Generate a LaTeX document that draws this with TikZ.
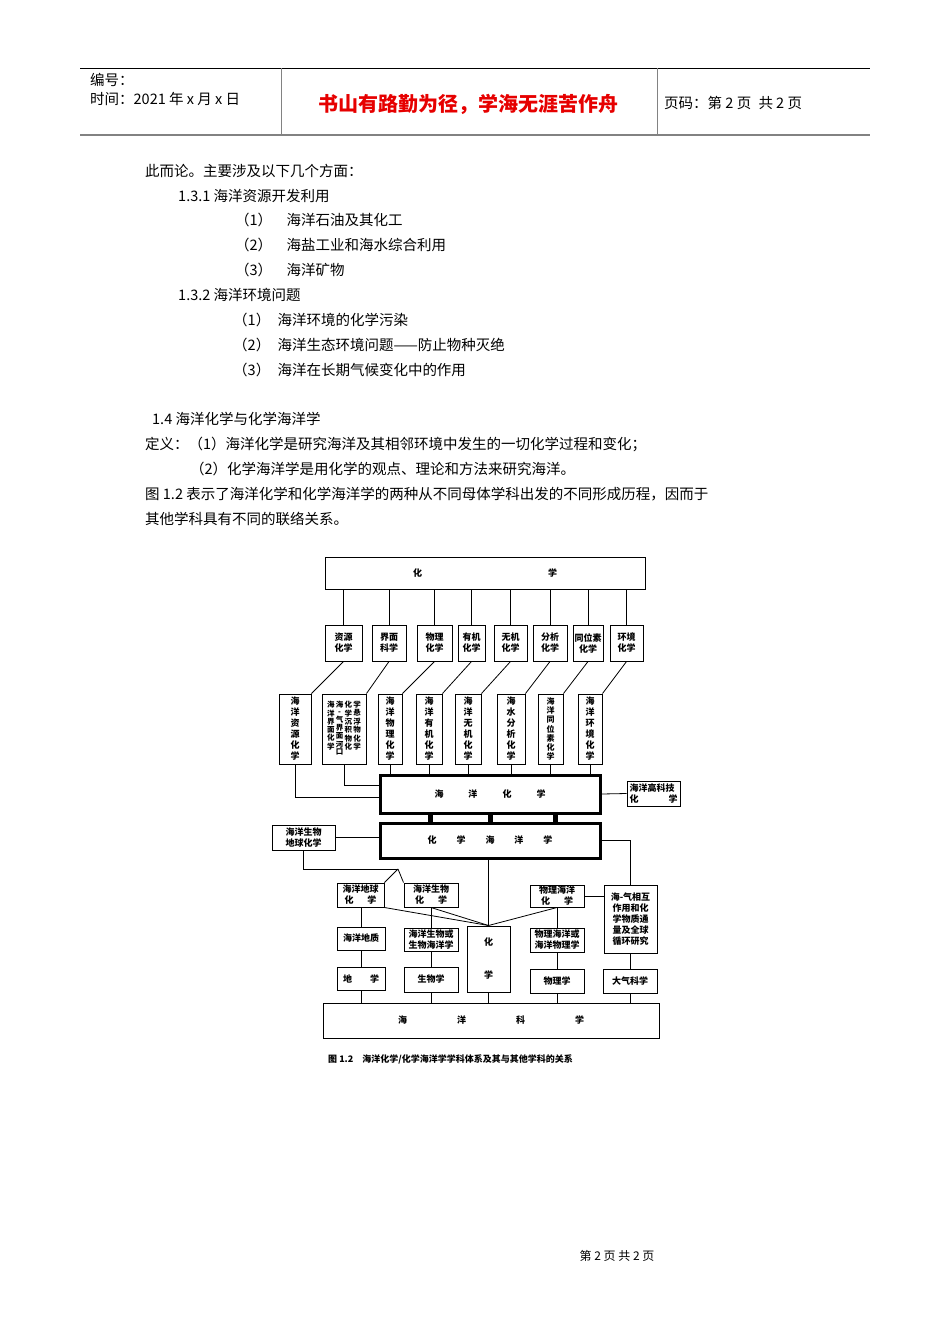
\documentclass[tikz,border=0pt]{standalone}
\usepackage{fontspec}
\setmainfont{Noto Sans CJK SC}
\usetikzlibrary{calc, positioning}
\definecolor{mottored}{RGB}{230,0,0}
\definecolor{rulegray}{RGB}{130,130,130}
\newcommand{\dfont}{\fontsize{9}{11}\selectfont\bfseries}
\newcommand{\bfont}{\fontsize{14.5}{17}\selectfont}
\newcommand{\vcol}[1]{\begin{tabular}[t]{@{}c@{}}#1\end{tabular}}
\tikzset{
  box/.style={draw, line width=1pt, inner sep=1pt, align=center, font=\dfont},
  bigbox/.style={box, line width=3pt},
  txt/.style={anchor=west, inner sep=0pt, font=\bfont},
  link/.style={line width=0.8pt}
}
\begin{document}
\begin{tikzpicture}[x=1pt, y=-1pt]
        \useasboundingbox (0,0) rectangle (950,1344);
        % Header
        \draw[line width=0.8pt] (80,68) -- (870,68);
        \draw[rulegray, line width=2pt] (80,135) -- (870,135);
        \draw[rulegray] (281,68) -- (281,135) (657,68) -- (657,135);
        \node[txt] (no) at (90,80) {编号：};
        \node[txt] (date) at (90,99) {时间：2021 年 x 月 x 日};
        \node[font=\fontsize{20}{24}\selectfont\bfseries, text=mottored] (motto) at (468,104) {书山有路勤为径，学海无涯苦作舟};
        \node[txt] (pg) at (664,103) {页码：第 2 页\enspace 共 2 页};

        % Body text
        \node[txt] (l1) at (145,171) {此而论。主要涉及以下几个方面：};
        \node[txt] (l2) at (178,196) {1.3.1 海洋资源开发利用};
        \node[txt] (l3) at (235,220) {（1）\quad 海洋石油及其化工};
        \node[txt] (l4) at (235,245) {（2）\quad 海盐工业和海水综合利用};
        \node[txt] (l5) at (235,270) {（3）\quad 海洋矿物};
        \node[txt] (l6) at (178,295) {1.3.2 海洋环境问题};
        \node[txt] (l7) at (233,320) {（1）\enspace 海洋环境的化学污染};
        \node[txt] (l8) at (233,345) {（2）\enspace 海洋生态环境问题——防止物种灭绝};
        \node[txt] (l9) at (233,370) {（3）\enspace 海洋在长期气候变化中的作用};
        \node[txt] (l10) at (152,419) {1.4 海洋化学与化学海洋学};
        \node[txt] (l11) at (145,444) {定义：（1）海洋化学是研究海洋及其相邻环境中发生的一切化学过程和变化；};
        \node[txt] (l12) at (190,469) {（2）化学海洋学是用化学的观点、理论和方法来研究海洋。};
        \node[txt] (l13) at (145,494) {图 1.2 表示了海洋化学和化学海洋学的两种从不同母体学科出发的不同形成历程，因而于};
        \node[txt] (l14) at (145,519) {其他学科具有不同的联络关系。};

        % Top box
        \node[box, minimum width=320pt, minimum height=32pt] (hx) at (485,573) {\hspace{0pt}化\hspace{126pt}学};

        % Second row
        \node[box, minimum width=37pt, minimum height=36pt] (zy) at (343.5,643) {资源\\化学};
        \node[box, minimum width=34pt, minimum height=36pt] (jm) at (389,643) {界面\\科学};
        \node[box, minimum width=35pt, minimum height=36pt] (wl) at (434.5,643) {物理\\化学};
        \node[box, minimum width=27pt, minimum height=36pt] (yj) at (471.5,643) {有机\\化学};
        \node[box, minimum width=33pt, minimum height=36pt] (wj) at (510.5,643) {无机\\化学};
        \node[box, minimum width=34pt, minimum height=36pt] (fx) at (550,643) {分析\\化学};
        \node[box, minimum width=30pt, minimum height=36pt] (tw) at (588,643) {同位素\\化学};
        \node[box, minimum width=33pt, minimum height=36pt] (hj) at (626.5,643) {环境\\化学};
        \foreach \n in {zy,jm,wl,yj,wj,fx,tw,hj}
          \draw[link] (\n.north) -- (\n.north |- hx.south);

        % Third row
        \node[box, minimum width=32pt, minimum height=70pt] (hzy) at (295,729) {海\\洋\\资\\源\\化\\学};
        \node[box, minimum width=44pt, minimum height=70pt, inner sep=0.5pt, font=\fontsize{7.5}{8.6}\selectfont\bfseries] (hjm) at (344,729)
          {\renewcommand\arraystretch{0.78}\vcol{海\\洋\\界\\面\\化\\学}\,\vcol{海\\-\\气\\界\\面\\河\\口}\,\vcol{化\\学\\沉\\积\\物\\化}\,\vcol{学\\悬\\浮\\物\\化\\学}};
        \node[box, minimum width=24pt, minimum height=70pt] (hwl) at (390,729) {海\\洋\\物\\理\\化\\学};
        \node[box, minimum width=26pt, minimum height=70pt] (hyj) at (429,729) {海\\洋\\有\\机\\化\\学};
        \node[box, minimum width=26pt, minimum height=70pt] (hwj) at (468,729) {海\\洋\\无\\机\\化\\学};
        \node[box, minimum width=28pt, minimum height=70pt] (hfx) at (511,729) {海\\水\\分\\析\\化\\学};
        \node[box, minimum width=25pt, minimum height=70pt, font=\fontsize{8}{9.2}\selectfont\bfseries] (htw) at (550.5,729) {海\\洋\\同\\位\\素\\化\\学};
        \node[box, minimum width=24pt, minimum height=70pt] (hhj) at (590,729) {海\\洋\\环\\境\\化\\学};
        \draw[link] (zy.south) -- (hzy.north east);
        \draw[link] (jm.south) -- (hjm.north east);
        \draw[link] (wl.south) -- (hwl.north east);
        \draw[link] (yj.south) -- (hyj.north east);
        \draw[link] (wj.south) -- (hwj.north east);
        \draw[link] (fx.south) -- (hfx.north east);
        \draw[link] (tw.south) -- (htw.north east);
        \draw[link] (hj.south) -- (hhj.north east);

        % Marine chemistry / chemical oceanography
        \node[bigbox, minimum width=220pt, minimum height=38pt] (hyhx) at (490,794) {海\hspace{25pt}洋\hspace{25pt}化\hspace{25pt}学};
        \node[bigbox, minimum width=220pt, minimum height=35pt] (hxhy) at (490,840.5) {化\hspace{20pt}学\hspace{20pt}海\hspace{20pt}洋\hspace{20pt}学};
        \foreach \n in {hwl,hyj,hwj,hfx,htw,hhj}
          \draw[link] (\n.south) -- (\n.south |- hyhx.north);
        \draw[link] (hzy.south) |- ($(hyhx.west)+(0,3)$);
        \draw[link] (hjm.south) |- ($(hyhx.west)+(0,-9)$);
        \foreach \x in {430,490,555}
          \draw[line width=5pt] (\x,813) -- (\x,823);
        \node[box, minimum width=53pt, minimum height=25pt, align=left] (gkj) at (653.5,793.5) {海洋高科技\\化\hspace{30pt}学};
        \draw[link] (hyhx.east) -- (gkj.west);
        \node[box, minimum width=63pt, minimum height=25pt] (swdq) at (303.5,837.5) {海洋生物\\地球化学};
        \draw[link] (swdq.east) -- (swdq.east -| hxhy.west);

        % Lower rows
        \node[box, minimum width=47pt, minimum height=24pt] (dqhx) at (360.5,895) {海洋地球\\化\hspace{14pt}学};
        \node[box, minimum width=54pt, minimum height=24pt] (swhx) at (431,895) {海洋生物\\化\hspace{14pt}学};
        \node[box, minimum width=54pt, minimum height=22pt] (wlhx) at (557,896) {物理海洋\\化\hspace{14pt}学};
        \node[box, minimum width=53pt, minimum height=68pt] (hqxh) at (630.5,919) {海-气相互\\作用和化\\学物质通\\量及全球\\循环研究};
        \node[box, minimum width=43pt, minimum height=66pt] (hxz) at (488.5,959) {化\\[22pt]学};
        \coordinate (peak) at (398,869);
        \draw[link] (swdq.south) |- (peak);
        \draw[link] (peak) -- (dqhx.north east);
        \draw[link] (peak) -- (swhx.north west);
        \draw[link] (hxz.north) -- (hxz.north |- hxhy.south);
        \draw[link] (dqhx.south east) -- (hxz.north);
        \draw[link] (swhx.south) -- (hxz.north);
        \draw[link] (wlhx.south) -- (hxz.north);
        \draw[link] (hxhy.east) -| (hqxh.north);
        \draw[link] (wlhx.east) -- (wlhx.east -| hqxh.west);

        \node[box, minimum width=48pt, minimum height=23pt] (dz) at (361,938.5) {海洋地质};
        \node[box, minimum width=54pt, minimum height=23pt] (swhy) at (431,939.5) {海洋生物或\\生物海洋学};
        \node[box, minimum width=54pt, minimum height=24pt] (wlhy) at (557,940) {物理海洋或\\海洋物理学};
        \draw[link] (dqhx.south -| dz.north) -- (dz.north);
        \draw[link] (swhx.south) -- (swhy.north);
        \draw[link] (wlhx.south) -- (wlhy.north);

        \node[box, minimum width=48pt, minimum height=23pt] (dx) at (361,978.5) {地\hspace{18pt}学};
        \node[box, minimum width=54pt, minimum height=25pt] (swx) at (431,979.5) {生物学};
        \node[box, minimum width=54pt, minimum height=24pt] (wlx) at (557,981) {物理学};
        \node[box, minimum width=54pt, minimum height=24pt] (dqkx) at (630,981) {大气科学};
        \draw[link] (dz.south) -- (dx.north);
        \draw[link] (swhy.south) -- (swx.north);
        \draw[link] (wlhy.south) -- (wlx.north);
        \draw[link] (hqxh.south -| dqkx.north) -- (dqkx.north);

        \node[box, minimum width=336pt, minimum height=35pt] (hykx) at (491,1020.5) {海\hspace{50pt}洋\hspace{50pt}科\hspace{50pt}学};
        \foreach \n in {dx,swx,hxz,wlx,dqkx}
          \draw[link] (\n.south) -- (\n.south |- hykx.north);

        % Caption and footer
        \node[anchor=west, inner sep=0pt, font=\fontsize{9}{10}\selectfont\bfseries] (cap) at (328,1059) {图 1.2\quad 海洋化学/化学海洋学学科体系及其与其他学科的关系};
        \node[font=\fontsize{12}{14}\selectfont] (foot) at (617,1256) {第 2 页 共 2 页};
\end{tikzpicture}
\end{document}
